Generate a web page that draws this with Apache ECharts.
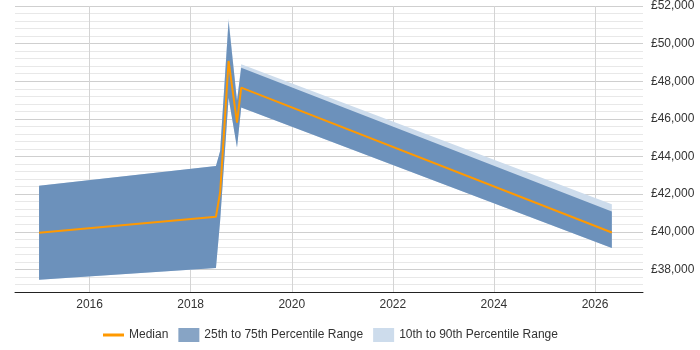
<!DOCTYPE html>
<html>
<head>
<meta charset="utf-8">
<script src="https://cdn.jsdelivr.net/npm/echarts@6/dist/echarts.min.js"></script>
<style>
  html, body { margin: 0; padding: 0; background: #fff; }
  #chart { width: 700px; height: 350px; }
</style>
</head>
<body>
<div id="chart"></div>
<script>
var dates = ['2015-01', '2018-07', '2018-08', '2018-10', '2018-12', '2019-01', '2026-05'];
var median = [39950, 40800, 42100, 49080, 45800, 47660, 39960];
var p25 = [37450, 38080, 40600, 47130, 44480, 46600, 39140];
var p75 = [42450, 43500, 44300, 51200, 46960, 48720, 41080];
var p10 = [37450, 38080, 40600, 47130, 44480, 46600, 39140];
var p90 = [42450, 43500, 44300, 51350, 46960, 48900, 41470];
var yearTicks = [2016, 2018, 2020, 2022, 2024, 2026];

var font = '"Liberation Sans", Arial, sans-serif';
var dark = '#6c91bb';
var light = '#cddcec';

// month string -> decimal year, for a plain value axis
function toYear(s) {
  var p = s.split('-');
  return +p[0] + (+p[1] - 1) / 12;
}
// value first so that stacking happens on y, not on the year
function pairs(vals) {
  return vals.map(function(v, i) { return [v, toYear(dates[i])]; });
}
function diff(hi, lo) {
  return hi.map(function(v, i) { return [v - lo[i], toYear(dates[i])]; });
}
function money(v) {
  return '£' + String(v).replace(/\B(?=(\d{3})+(?!\d))/g, ',');
}

var enc = { x: 1, y: 0 };
var chart = echarts.init(document.getElementById('chart'), null, { renderer: 'canvas' });
chart.setOption({
  animation: false,
  textStyle: { fontFamily: font },
  grid: { left: 15, right: 57, top: 5, bottom: 58 },
  legend: {
    left: 98,
    top: 323,
    itemWidth: 21,
    itemHeight: 14,
    itemGap: 10,
    textStyle: { color: '#333', fontSize: 12, fontFamily: font },
    data: [
      { name: 'Median', icon: 'path://M0,0M21,14M0,5.5h21v3h-21z', itemStyle: { color: '#f90' } },
      { name: '25th to 75th Percentile Range', icon: 'rect', itemStyle: { color: '#87a4c5' } },
      { name: '10th to 90th Percentile Range', icon: 'rect', itemStyle: { color: light } }
    ]
  },
  xAxis: {
    type: 'value',
    min: 2014.524,
    max: 2026.95,
    axisLine: { lineStyle: { color: '#222', width: 1 } },
    axisTick: { show: false, customValues: yearTicks },
    axisLabel: {
      color: '#333',
      fontSize: 12,
      margin: 7,
      customValues: yearTicks,
      formatter: function(v) { return String(v); }
    },
    splitLine: { show: true, lineStyle: { color: '#d4d4d4' } }
  },
  yAxis: {
    type: 'value',
    position: 'right',
    min: 36800,
    max: 52000,
    interval: 400,
    axisLine: { show: false },
    axisTick: { show: false },
    axisLabel: {
      color: '#333',
      fontSize: 12,
      margin: 8,
      formatter: function(v) { return v % 2000 === 0 ? money(v) : ''; }
    },
    splitLine: {
      lineStyle: { color: ['#e8e8e8', '#e8e8e8', '#e8e8e8', '#cfcfcf', '#e8e8e8'] }
    }
  },
  series: [
    {
      name: 'p10base', type: 'line', stack: 'outer', data: pairs(p10), encode: enc,
      symbol: 'none', lineStyle: { width: 0 }, silent: true
    },
    {
      name: '10th to 90th Percentile Range', type: 'line', stack: 'outer', data: diff(p90, p10), encode: enc,
      symbol: 'none', lineStyle: { width: 0 }, itemStyle: { color: light },
      areaStyle: { color: light, opacity: 1 }, silent: true
    },
    {
      name: 'p25base', type: 'line', stack: 'inner', data: pairs(p25), encode: enc,
      symbol: 'none', lineStyle: { width: 0 }, silent: true
    },
    {
      name: '25th to 75th Percentile Range', type: 'line', stack: 'inner', data: diff(p75, p25), encode: enc,
      symbol: 'none', lineStyle: { width: 0 }, itemStyle: { color: dark },
      areaStyle: { color: dark, opacity: 1 }, silent: true
    },
    {
      name: 'Median', type: 'line', data: pairs(median), encode: enc,
      symbol: 'none', itemStyle: { color: '#f90' },
      lineStyle: { color: '#f90', width: 2 }
    }
  ]
});
</script>
</body>
</html>
